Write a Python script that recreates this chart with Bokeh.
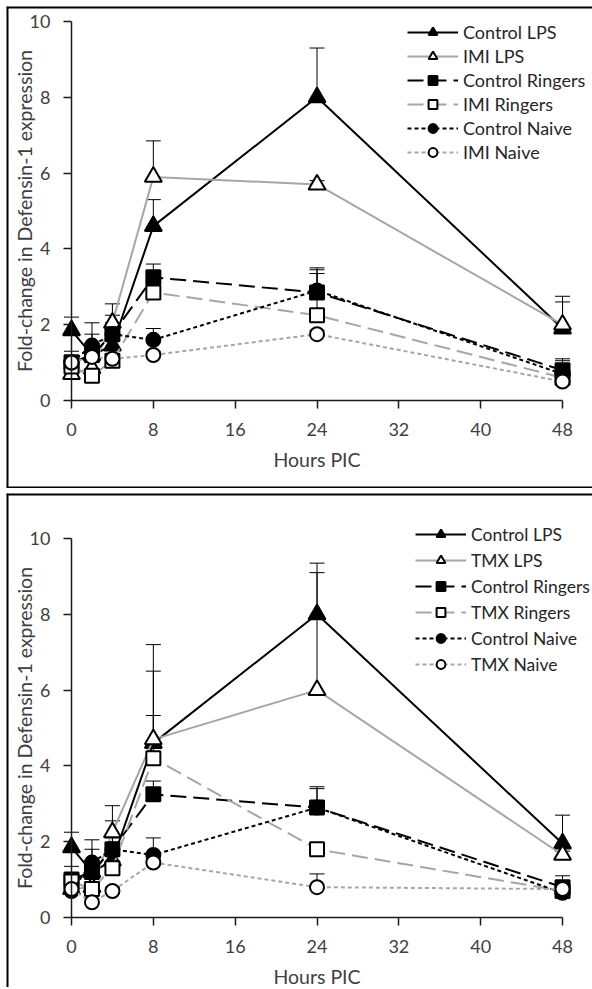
from bokeh.plotting import figure
from bokeh.models import (ColumnDataSource, Whisker, TeeHead, LinearAxis, Range1d,
                          Legend, LegendItem, FixedTicker, Span)
from bokeh.layouts import column
from bokeh.embed import file_html
from bokeh.resources import INLINE

hours = [0, 2, 4, 8, 24, 48]
x_ticks = [0, 8, 16, 24, 32, 40, 48]
y_ticks = [0, 2, 4, 6, 8, 10]
x_label = "Hours PIC"
y_label = "Fold-change in Defensin-1 expression"

# ---- top panel (IMI) ----
top_labels = ["Control LPS", "IMI LPS", "Control Ringers", "IMI Ringers", "Control Naive", "IMI Naive"]
top_ctrl_lps = [1.85, 1.2, 1.45, 4.6, 8.0, 1.9]
top_ctrl_lps_err = [0.35, 0.55, 0.4, 0.7, 1.3, 0.85]
top_imi_lps = [0.7, 0.85, 2.05, 5.9, 5.7, 2.0]
top_imi_lps_err = [0.1, 0.15, 0.5, 0.95, 0.1, 0.6]
top_ctrl_ring = [1.0, 1.2, 1.75, 3.25, 2.85, 0.8]
top_ctrl_ring_err = [0.3, 0.3, 0.5, 0.35, 0.65, 0.3]
top_imi_ring = [0.9, 0.65, 1.05, 2.85, 2.25, 0.6]
top_imi_ring_err = [0.1, 0.1, 0.15, 0.2, 1.1, 0.1]
top_ctrl_naive = [1.0, 1.45, 1.75, 1.6, 2.9, 0.7]
top_ctrl_naive_err = [0.2, 0.6, 0.3, 0.3, 0.55, 0.35]
top_imi_naive = [1.0, 1.15, 1.1, 1.2, 1.75, 0.5]
top_imi_naive_err = [0.1, 0.1, 0.1, 0.1, 0.1, 0.1]

# ---- bottom panel (TMX) ----
bot_labels = ["Control LPS", "TMX LPS", "Control Ringers", "TMX Ringers", "Control Naive", "TMX Naive"]
bot_ctrl_lps = [1.85, 1.2, 1.5, 4.6, 8.0, 1.95]
bot_ctrl_lps_err = [0.4, 0.6, 0.45, 0.73, 1.35, 0.75]
bot_tmx_lps = [0.75, 0.8, 2.25, 4.7, 6.0, 1.65]
bot_tmx_lps_err = [0.1, 0.1, 0.7, 2.5, 3.1, 0.1]
bot_ctrl_ring = [1.0, 1.2, 1.8, 3.25, 2.9, 0.8]
bot_ctrl_ring_err = [0.35, 0.3, 0.75, 0.35, 0.55, 0.3]
bot_tmx_ring = [0.95, 0.75, 1.3, 4.2, 1.8, 0.7]
bot_tmx_ring_err = [0.1, 0.1, 0.15, 2.3, 0.1, 0.1]
bot_ctrl_naive = [0.7, 1.45, 1.8, 1.65, 2.9, 0.65]
bot_ctrl_naive_err = [0.1, 0.6, 0.3, 0.45, 0.5, 0.3]
bot_tmx_naive = [0.75, 0.4, 0.7, 1.45, 0.8, 0.75]
bot_tmx_naive_err = [0.1, 0.1, 0.1, 0.1, 0.35, 0.1]

GRAY = "#a6a6a6"
STYLES = [
    dict(color="black", dash="solid", marker="triangle", fill="black", size=17),
    dict(color=GRAY, dash="solid", marker="triangle", fill="white", size=17),
    dict(color="black", dash="16 7", marker="square", fill="black", size=14),
    dict(color=GRAY, dash="16 7", marker="square", fill="white", size=14),
    dict(color="black", dash="4 3", marker="circle", fill="black", size=14),
    dict(color=GRAY, dash="4 3", marker="circle", fill="white", size=14),
]

FONT = "Lato"
WIDTH = 586
PX_PER_X = 10.23
PX_PER_Y = 37.9


def make_panel(labels, series, errs, height, zero_px_from_top, legend_xy, legend_spacing,
               legend_font, bottom_border):
    x0_px = 65  # x=0 position from canvas left
    x_start = -x0_px / PX_PER_X
    x_end = x_start + WIDTH / PX_PER_X
    y_end = zero_px_from_top / PX_PER_Y
    y_start = y_end - height / PX_PER_Y
    p = figure(width=WIDTH, height=height,
               x_range=Range1d(x_start, x_end), y_range=Range1d(y_start, y_end),
               output_backend="svg", toolbar_location=None,
               x_axis_location=None, y_axis_location=None,
               min_border=0, min_border_left=0, min_border_right=0,
               min_border_top=0, min_border_bottom=0)
    p.grid.visible = False
    p.outline_line_color = None
    p.background_fill_color = "white"
    p.border_fill_color = "white"

    # panel frame (left, top and optionally bottom edges; right edge lies outside the picture)
    p.add_layout(Span(location=x_start, dimension="height", line_color="black", line_width=4))
    p.add_layout(Span(location=y_end, dimension="width", line_color="black", line_width=4))
    if bottom_border:
        p.add_layout(Span(location=y_start, dimension="width", line_color="black", line_width=4))

    xa = LinearAxis(fixed_location=0, bounds=(0, 48), ticker=FixedTicker(ticks=x_ticks),
                    axis_label=x_label)
    ya = LinearAxis(fixed_location=0, bounds=(0, 10), ticker=FixedTicker(ticks=y_ticks),
                    axis_label=y_label)
    for ax in (xa, ya):
        ax.axis_line_color = "#1a1a1a"
        ax.axis_line_width = 1.5
        ax.major_tick_line_color = "#1a1a1a"
        ax.major_tick_line_width = 1.5
        ax.major_tick_out = 8
        ax.major_tick_in = 0
        ax.minor_tick_out = 0
        ax.minor_tick_in = 0
        ax.major_label_text_font = FONT
        ax.major_label_text_font_size = "18px"
        ax.major_label_text_color = "#404040"
        ax.axis_label_text_font = FONT
        ax.axis_label_text_font_size = "19.5px"
        ax.axis_label_text_font_style = "normal"
        ax.axis_label_text_color = "#404040"
    xa.major_label_standoff = 14
    xa.axis_label_standoff = 9
    ya.major_label_standoff = 13
    ya.axis_label_standoff = -9
    p.add_layout(xa, "below")
    p.add_layout(ya, "left")

    items = []
    for lab, ys, es, st in zip(labels, series, errs, STYLES):
        upper = [y + e for y, e in zip(ys, es)]
        src = ColumnDataSource(dict(x=hours, y=ys, upper=upper))
        lr = p.line("x", "y", source=src, line_color=st["color"], line_width=2,
                    line_dash=st["dash"])
        wh = Whisker(base="x", lower="y", upper="upper", source=src, dimension="height",
                     line_color="black", line_width=1,
                     upper_head=TeeHead(size=15, line_color="black", line_width=1),
                     lower_head=None)
        p.add_layout(wh)
        sr = p.scatter("x", "y", source=src, marker=st["marker"], size=st["size"],
                       fill_color=st["fill"], line_color="black", line_width=2)
        items.append(LegendItem(label=lab, renderers=[lr, sr]))

    lg = Legend(items=items, location=legend_xy, glyph_width=51, glyph_height=22,
                label_height=22, spacing=legend_spacing, padding=0, margin=0,
                border_line_color=None, background_fill_alpha=0, label_standoff=5,
                label_text_font=FONT, label_text_font_size=legend_font,
                label_text_color="#262626", label_text_baseline="middle")
    p.add_layout(lg)
    return p


top_series = [top_ctrl_lps, top_imi_lps, top_ctrl_ring, top_imi_ring, top_ctrl_naive, top_imi_naive]
top_errs = [top_ctrl_lps_err, top_imi_lps_err, top_ctrl_ring_err, top_imi_ring_err,
            top_ctrl_naive_err, top_imi_naive_err]
bot_series = [bot_ctrl_lps, bot_tmx_lps, bot_ctrl_ring, bot_tmx_ring, bot_ctrl_naive, bot_tmx_naive]
bot_errs = [bot_ctrl_lps_err, bot_tmx_lps_err, bot_ctrl_ring_err, bot_tmx_ring_err,
            bot_ctrl_naive_err, bot_tmx_naive_err]

p1 = make_panel(top_labels, top_series, top_errs, 482, 394, (401, 325), 2, "18px", True)
p2 = make_panel(bot_labels, bot_series, bot_errs, 494, 424, (409, 312), 4, "17.5px", False)

layout = column(p1, p2, spacing=5, margin=(6, 0, 0, 6))
open("out.html", "w").write(file_html(layout, INLINE))
